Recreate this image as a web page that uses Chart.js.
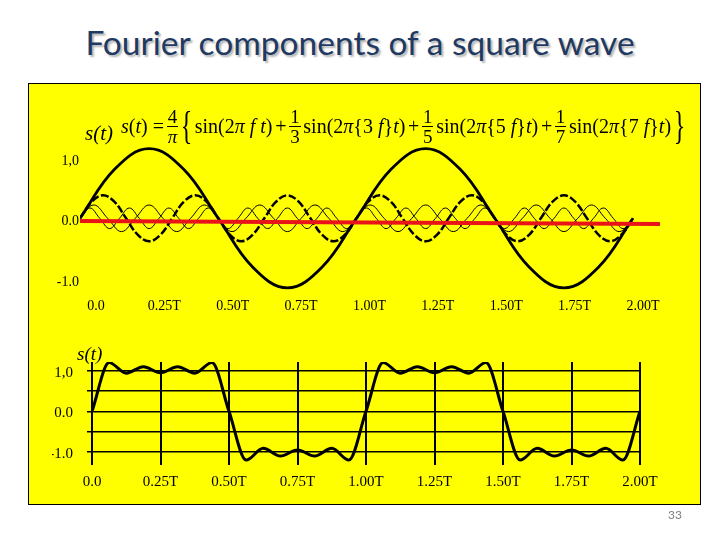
<!DOCTYPE html>
<html>
<head>
<meta charset="utf-8">
<title>Fourier components of a square wave</title>
<script src="https://cdn.jsdelivr.net/npm/chart.js@4.4.1/dist/chart.umd.min.js"></script>
<style>
  html, body { margin: 0; padding: 0; background: #fff; }
  #page { position: relative; width: 720px; height: 540px; overflow: hidden; }
  #title {
    position: absolute; left: 0; width: 720px; top: 22px; text-align: center;
    font-family: Lato, "Open Sans", sans-serif; font-size: 33.5px; color: #1f3a62;
    text-shadow: 2px 2px 2px rgba(0, 0, 0, 0.3);
  }
  #box {
    position: absolute; left: 28px; top: 83px; width: 673px; height: 422px;
    box-sizing: border-box; background: #ffff00; border: 1.5px solid #000;
  }
  canvas { position: absolute; left: 0; top: 0; }
  .serif { position: absolute; font-family: "Liberation Serif", serif; color: #000; white-space: pre; }
  #st1 { left: 85px; top: 121px; font-size: 21px; font-style: italic; }
  #st2 { left: 77px; top: 343px; font-size: 19px; font-style: italic; }
  #formula {
    left: 121px; top: 103px; width: 564px; height: 46px; display: flex;
    align-items: center; justify-content: space-between; font-size: 20px;
  }
  .frac { display: inline-flex; flex-direction: column; align-items: center; font-size: 19px; line-height: 19px; }
  .frac .num { border-bottom: 1.2px solid #000; padding: 0 1px; }
  .brace { display: inline-block; font-size: 40px; line-height: 40px; transform: scaleX(0.6); margin: 0 -4px; }
  #pageno { position: absolute; left: 668px; top: 507px; font-family: Lato, sans-serif; font-size: 12px; color: #808080; }
</style>
</head>
<body>
<div id="page">
  <div id="title">Fourier components of a square wave</div>
  <div id="box"></div>
  <canvas id="bottomChart" width="720" height="540"></canvas>
  <canvas id="topChart" width="720" height="540"></canvas>
  <div id="st1" class="serif">s(t)</div>
  <div id="formula" class="serif">
    <span><i>s</i>(<i>t</i>) =</span>
    <span class="frac"><span class="num">4</span><span><i>π</i></span></span>
    <span class="brace">{</span>
    <span>sin(2<i>π f t</i>)</span>
    <span>+</span>
    <span class="frac"><span class="num">1</span><span>3</span></span>
    <span>sin(2<i>π</i>{3 <i>f</i>}<i>t</i>)</span>
    <span>+</span>
    <span class="frac"><span class="num">1</span><span>5</span></span>
    <span>sin(2<i>π</i>{5 <i>f</i>}<i>t</i>)</span>
    <span>+</span>
    <span class="frac"><span class="num">1</span><span>7</span></span>
    <span>sin(2<i>π</i>{7 <i>f</i>}<i>t</i>)</span>
    <span class="brace">}</span>
  </div>
  <div id="st2" class="serif">s(t)</div>
  <div id="pageno">33</div>
</div>

<script>
// ---- top plot: components, x in units of T/420 (0..840 = two periods) ----
const fundX = [0, 52.5, 105, 157.5, 210, 262.5, 315, 367.5, 420, 472.5, 525, 577.5, 630, 682.5, 735, 787.5, 840];
const fundY = [0, 0.81, 1.15, 0.81, 0, -0.81, -1.15, -0.81, 0, 0.81, 1.15, 0.81, 0, -0.81, -1.15, -0.81, 0];

const h3X = [0, 17.5, 35, 52.5, 70, 87.5, 105, 122.5, 140, 157.5, 175, 192.5, 210, 227.5, 245, 262.5,
  280, 297.5, 315, 332.5, 350, 367.5, 385, 402.5, 420, 437.5, 455, 472.5, 490, 507.5, 525, 542.5,
  560, 577.5, 595, 612.5, 630, 647.5, 665, 682.5, 700, 717.5, 735, 752.5, 770, 787.5, 805, 822.5, 840];
const h3Y = [0, 0.27, 0.38, 0.27, 0, -0.27, -0.38, -0.27, 0, 0.27, 0.38, 0.27, 0, -0.27, -0.38, -0.27,
  0, 0.27, 0.38, 0.27, 0, -0.27, -0.38, -0.27, 0, 0.27, 0.38, 0.27, 0, -0.27, -0.38, -0.27,
  0, 0.27, 0.38, 0.27, 0, -0.27, -0.38, -0.27, 0, 0.27, 0.38, 0.27, 0, -0.27, -0.38, -0.27, 0];

const h5X = [0, 21, 42, 63, 84, 105, 126, 147, 168, 189, 210, 231, 252, 273, 294, 315, 336, 357, 378, 399,
  420, 441, 462, 483, 504, 525, 546, 567, 588, 609, 630, 651, 672, 693, 714, 735, 756, 777, 798, 819, 840];
const h5Y = [0, 0.22, 0, -0.22, 0, 0.22, 0, -0.22, 0, 0.22, 0, -0.22, 0, 0.22, 0, -0.22, 0, 0.22, 0, -0.22,
  0, 0.22, 0, -0.22, 0, 0.22, 0, -0.22, 0, 0.22, 0, -0.22, 0, 0.22, 0, -0.22, 0, 0.22, 0, -0.22, 0];

const h7X = [0, 15, 30, 45, 60, 75, 90, 105, 120, 135, 150, 165, 180, 195, 210, 225, 240, 255, 270, 285,
  300, 315, 330, 345, 360, 375, 390, 405, 420, 435, 450, 465, 480, 495, 510, 525, 540, 555, 570, 585,
  600, 615, 630, 645, 660, 675, 690, 705, 720, 735, 750, 765, 780, 795, 810, 825, 840];
const h7Y = [0, 0.17, 0, -0.17, 0, 0.17, 0, -0.17, 0, 0.17, 0, -0.17, 0, 0.17, 0, -0.17, 0, 0.17, 0, -0.17,
  0, 0.17, 0, -0.17, 0, 0.17, 0, -0.17, 0, 0.17, 0, -0.17, 0, 0.17, 0, -0.17, 0, 0.17, 0, -0.17,
  0, 0.17, 0, -0.17, 0, 0.17, 0, -0.17, 0, 0.17, 0, -0.17, 0, 0.17, 0, -0.17, 0];

// red zero line (slightly sloped in the picture)
const zeroX = [0, 881];
const zeroY = [-0.045, -0.095];

// ---- bottom plot: the sum, x in units of T ----
const sumX = [0, 0.0625, 0.125, 0.1875, 0.25, 0.3125, 0.375, 0.4375, 0.5, 0.5625, 0.625, 0.6875, 0.75,
  0.8125, 0.875, 0.9375, 1, 1.0625, 1.125, 1.1875, 1.25, 1.3125, 1.375, 1.4375, 1.5, 1.5625, 1.625,
  1.6875, 1.75, 1.8125, 1.875, 1.9375, 2];
const sumY = [0, 1.2, 0.94, 1.1, 0.95, 1.1, 0.94, 1.2, 0, -1.2, -0.91, -1.1, -0.95, -1.1, -0.91, -1.2,
  0, 1.2, 0.94, 1.1, 0.95, 1.1, 0.94, 1.2, 0, -1.2, -0.91, -1.1, -0.95, -1.1, -0.91, -1.2, 0];

// ---- axis ticks ----
const timeTicks = [0, 0.25, 0.5, 0.75, 1, 1.25, 1.5, 1.75, 2];
const timeLabels = ['0.0', '0.25T', '0.50T', '0.75T', '1.00T', '1.25T', '1.50T', '1.75T', '2.00T'];
const topYTicks = [-1, 0, 1];
const topYLabels = ['-1.0', '0.0', '1,0'];
const botYTicks = [-1, -0.5, 0, 0.5, 1];
const botYLabels = ['-1.0', '', '0.0', '', '1,0'];

Chart.defaults.font.family = '"Liberation Serif", serif';
Chart.defaults.color = '#000';

function points(xs, ys) {
  return xs.map((x, i) => ({ x: x, y: ys[i] }));
}

function fixedTicks(values) {
  return scale => { scale.ticks = values.map(v => ({ value: v })); };
}

function curve(xs, ys, width, dash) {
  return {
    data: points(xs, ys),
    borderColor: '#000',
    borderWidth: width,
    borderDash: dash || [],
    pointRadius: 0,
    tension: 0.4,
    fill: false
  };
}

// top chart: the four sine components
const red = curve(zeroX, zeroY, 4);
red.borderColor = '#e8141a';
red.tension = 0;

new Chart(document.getElementById('topChart'), {
  type: 'line',
  data: {
    datasets: [
      red,
      curve(fundX, fundY, 2.8),
      curve(h3X, h3Y, 2.5, [8, 2.5]),
      curve(h5X, h5Y, 1),
      curve(h7X, h7Y, 1)
    ]
  },
  options: {
    responsive: false,
    animation: false,
    layout: { padding: { left: 50, right: 60, top: 139.65, bottom: 216.1 } },
    plugins: { legend: { display: false }, tooltip: { enabled: false } },
    scales: {
      x: { type: 'linear', display: false, min: 0, max: 881 },
      xt: {
        type: 'linear', position: 'bottom', min: -0.0585, max: 2.0622,
        afterBuildTicks: fixedTicks(timeTicks),
        afterFit: s => { s.height = 30; },
        grid: { display: false, drawTicks: false },
        border: { display: false },
        ticks: { autoSkip: false, maxRotation: 0, padding: 4, font: { size: 14 },
          callback: (v, i) => timeLabels[i] }
      },
      y: {
        min: -1.25, max: 1.3,
        afterBuildTicks: fixedTicks(topYTicks),
        afterFit: s => { s.width = 30; },
        grid: { display: false, drawTicks: false },
        border: { display: false },
        ticks: { padding: 1, labelOffset: 3.5, font: { size: 14 },
          callback: (v, i) => topYLabels[i] }
      }
    }
  }
});

// bottom chart: the resulting square wave
const sum = curve(sumX, sumY, 3);
sum.tension = 0;
sum.cubicInterpolationMode = 'monotone';

new Chart(document.getElementById('bottomChart'), {
  type: 'line',
  data: { datasets: [sum] },
  options: {
    responsive: false,
    animation: false,
    layout: { padding: { left: 52, right: 80, top: 362, bottom: 45 } },
    plugins: { legend: { display: false }, tooltip: { enabled: false } },
    scales: {
      x: {
        type: 'linear', min: 0, max: 2,
        afterBuildTicks: fixedTicks(timeTicks),
        afterFit: s => { s.height = 30; },
        grid: { color: '#000', lineWidth: 2, drawTicks: false },
        border: { display: false },
        ticks: { autoSkip: false, maxRotation: 0, padding: 8, font: { size: 15 },
          callback: (v, i) => timeLabels[i] }
      },
      y: {
        min: -1.32, max: 1.215,
        afterBuildTicks: fixedTicks(botYTicks),
        afterFit: s => { s.width = 40; },
        grid: { color: '#000', lineWidth: 1.5, tickLength: 5 },
        border: { display: false },
        ticks: { padding: 14, labelOffset: 2, font: { size: 15 },
          callback: (v, i) => botYLabels[i] }
      }
    }
  }
});
</script>
</body>
</html>
